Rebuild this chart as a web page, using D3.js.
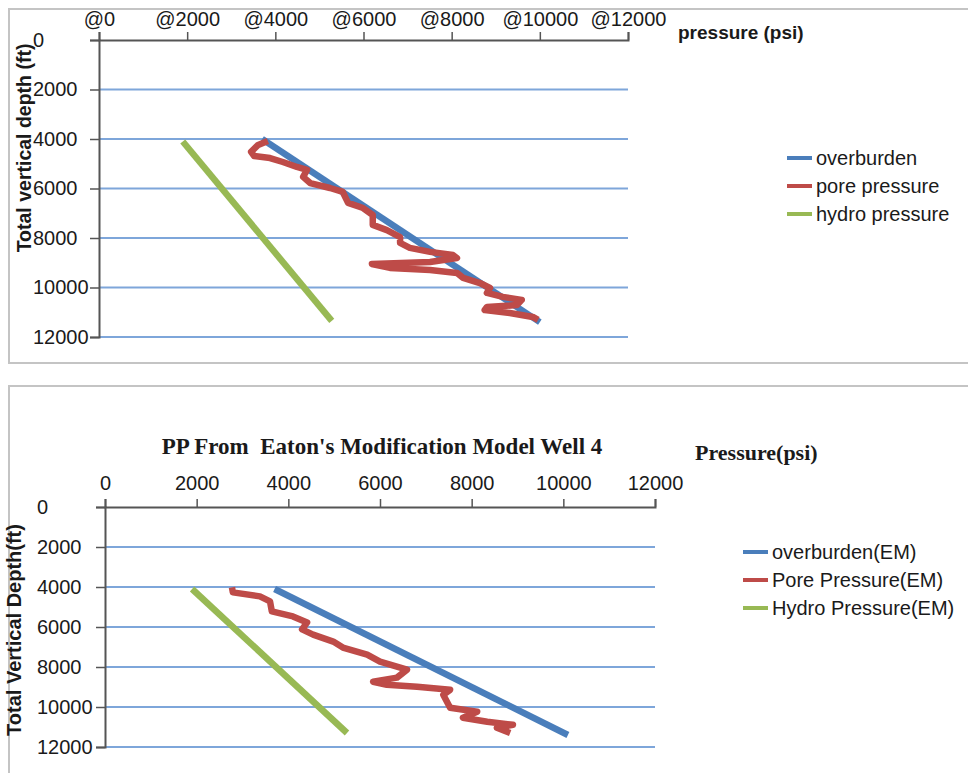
<!DOCTYPE html>
<html>
<head>
<meta charset="utf-8">
<script src="https://cdn.jsdelivr.net/npm/d3@7"></script>
<style>
  body { margin: 0; background: #fff; }
  svg { display: block; }
  text { font-family: "Liberation Sans", Arial, sans-serif; fill: #1a1a1a; }
</style>
</head>
<body>
<div id="chart"></div>
<script>
// axis ticks (same for both panels)
const pressureTicks = [0, 2000, 4000, 6000, 8000, 10000, 12000];
const depthTicks = [0, 2000, 4000, 6000, 8000, 10000, 12000];

// top panel
const obTopP = [3700, 10000];
const obTopD = [4000, 11400];
const hydroTopP = [1900, 5280];
const hydroTopD = [4100, 11350];
const poreTopP = [3830, 3610, 3450, 3520, 3880, 4170, 4490, 4720, 4630, 4790, 5240, 5530, 5650, 5990, 6210, 6210, 6530, 6830, 6830, 7050, 7510, 8030, 8120, 7510, 6190, 6600, 7510, 8120, 8260, 8640, 8870, 8800, 9160, 9590, 9480, 8800, 8750, 9320, 9840, 9960];
const poreTopD = [4080, 4240, 4520, 4690, 4770, 4930, 5130, 5250, 5530, 5780, 5980, 6140, 6580, 6790, 7070, 7470, 7680, 7960, 8200, 8400, 8560, 8690, 8810, 8970, 9050, 9210, 9290, 9410, 9610, 9820, 10020, 10220, 10380, 10500, 10710, 10790, 10910, 11030, 11190, 11310];
const topNames = ["overburden", "pore pressure", "hydro pressure"];

// bottom panel (Eaton's modification)
const obEmP = [3700, 10100];
const obEmD = [4100, 11400];
const hydroEmP = [1900, 5280];
const hydroEmD = [4100, 11300];
const poreEmP = [2770, 2790, 3380, 3600, 3640, 4100, 4410, 4300, 4540, 4980, 5190, 5720, 6000, 6590, 6370, 5850, 6150, 6810, 7530, 7380, 7530, 8120, 7810, 8340, 8900, 8550, 8840];
const poreEmD = [4020, 4270, 4470, 4720, 5220, 5470, 5770, 6120, 6380, 6730, 7030, 7380, 7730, 8130, 8530, 8740, 8890, 8990, 9140, 9390, 10040, 10240, 10540, 10740, 10890, 11040, 11300];
const emNames = ["overburden(EM)", "Pore Pressure(EM)", "Hydro Pressure(EM)"];

const colors = ["#4a7ebb", "#be4b48", "#98b954"];

const svg = d3.select("#chart").append("svg")
    .attr("width", 968)
    .attr("height", 773);

// chart frames
svg.append("rect").attr("x", 9).attr("y", 9).attr("width", 980).attr("height", 354)
    .attr("fill", "none").attr("stroke", "#c4c4c4").attr("stroke-width", 2);
svg.append("rect").attr("x", 9).attr("y", 386).attr("width", 980).attr("height", 420)
    .attr("fill", "none").attr("stroke", "#c4c4c4").attr("stroke-width", 2);

function zip(a, b) { return a.map((v, i) => [v, b[i]]); }

function drawPanel(cfg) {
    const g = svg.append("g");
    const x = d3.scaleLinear().domain([0, 12000]).range(cfg.xRange);
    const y = d3.scaleLinear().domain([0, 12000]).range(cfg.yRange);

    // gridlines
    g.selectAll(".grid")
        .data(depthTicks.slice(1))
        .enter().append("line")
            .attr("x1", x(0)).attr("x2", x(12000))
            .attr("y1", d => y(d)).attr("y2", d => y(d))
            .attr("stroke", "#7ea6da").attr("stroke-width", 2);

    // top x axis
    const xAxis = d3.axisTop(x).tickValues(pressureTicks)
        .tickSize(8).tickPadding(cfg.xPad).tickFormat(d => cfg.prefix + d);
    const xa = g.append("g").attr("transform", `translate(0,${y(0)})`).call(xAxis);
    xa.select(".domain").attr("stroke", "#555").attr("stroke-width", 2);
    xa.selectAll(".tick line").attr("stroke", "#555").attr("stroke-width", 1.5);
    xa.selectAll(".tick text").attr("font-size", 20).attr("fill", "#1a1a1a")
        .attr("font-family", "Liberation Sans, Arial, sans-serif");

    // left y axis, labels left aligned like the original
    const yAxis = d3.axisLeft(y).tickValues(depthTicks).tickSize(9).tickFormat(d => d);
    const ya = g.append("g").attr("transform", `translate(${x(0)},0)`).call(yAxis);
    ya.select(".domain").attr("stroke", "#555").attr("stroke-width", 2);
    ya.selectAll(".tick line").attr("stroke", "#555").attr("stroke-width", 1.5);
    ya.selectAll(".tick text").attr("font-size", 20).attr("fill", "#1a1a1a")
        .attr("font-family", "Liberation Sans, Arial, sans-serif")
        .attr("text-anchor", "start").attr("x", cfg.yLabelX - x(0));

    // series
    const line = d3.line().x(d => x(d[0])).y(d => y(d[1]));
    cfg.series.forEach((s, i) => {
        g.append("path")
            .datum(zip(s[0], s[1]))
            .attr("d", line)
            .attr("fill", "none")
            .attr("stroke", colors[i])
            .attr("stroke-width", 6.5)
            .attr("stroke-linejoin", "round");
    });

    // legend
    cfg.names.forEach((n, i) => {
        const ly = cfg.legendY + i * 28;
        g.append("line").attr("x1", cfg.legendX).attr("x2", cfg.legendX + 25)
            .attr("y1", ly).attr("y2", ly)
            .attr("stroke", colors[i]).attr("stroke-width", 4);
        g.append("text").attr("x", cfg.legendX + 29).attr("y", ly)
            .attr("dy", "0.35em").attr("font-size", 20).text(n);
    });

    // y axis title
    g.append("text")
        .attr("transform", `translate(${cfg.yTitleX},${cfg.yTitleY}) rotate(-90)`)
        .attr("text-anchor", "middle")
        .attr("font-size", cfg.yTitleSize)
        .attr("font-weight", "bold")
        .text(cfg.yTitle);
    return g;
}

drawPanel({
    xRange: [99, 628], yRange: [40, 337], prefix: "@", xPad: 6,
    yLabelX: 33,
    series: [[obTopP, obTopD], [poreTopP, poreTopD], [hydroTopP, hydroTopD]],
    names: topNames, legendX: 787, legendY: 158,
    yTitle: "Total vertical depth (ft)", yTitleX: 31, yTitleY: 148, yTitleSize: 19.5
});

svg.append("text").attr("x", 678).attr("y", 39)
    .attr("font-size", 19).attr("font-weight", "bold").text("pressure (psi)");

drawPanel({
    xRange: [105, 655], yRange: [507, 747], prefix: "", xPad: 9,
    yLabelX: 37,
    series: [[obEmP, obEmD], [poreEmP, poreEmD], [hydroEmP, hydroEmD]],
    names: emNames, legendX: 743, legendY: 552,
    yTitle: "Total Vertical Depth(ft)", yTitleX: 21, yTitleY: 630, yTitleSize: 20
});

svg.append("text").attr("x", 382).attr("y", 454)
    .attr("text-anchor", "middle")
    .style("font-family", "'Liberation Serif', 'Times New Roman', serif")
    .attr("font-size", 23).attr("font-weight", "bold")
    .text("PP From  Eaton's Modification Model Well 4")
    .attr("xml:space", "preserve").style("white-space", "pre");
svg.append("text").attr("x", 695).attr("y", 460)
    .style("font-family", "'Liberation Serif', 'Times New Roman', serif")
    .attr("font-size", 22).attr("font-weight", "bold")
    .text("Pressure(psi)");
</script>
</body>
</html>
